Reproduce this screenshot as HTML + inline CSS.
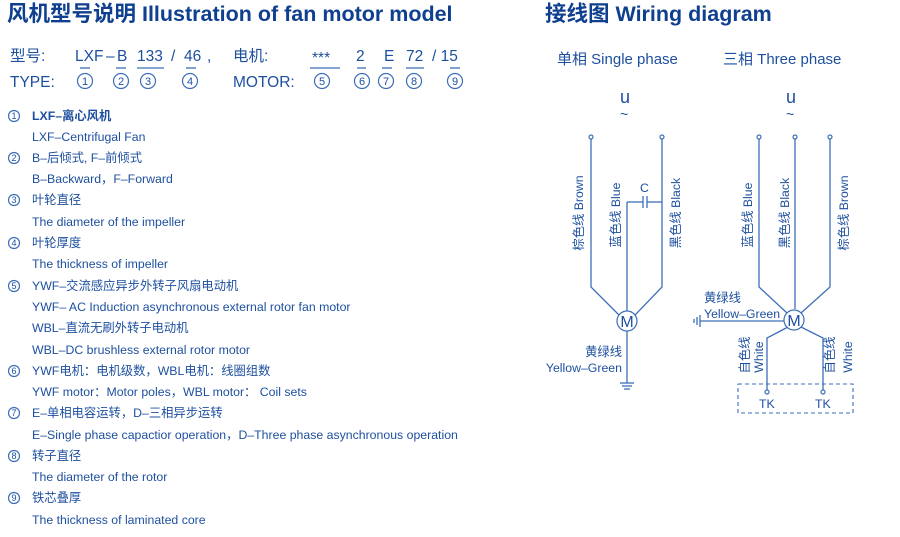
<!DOCTYPE html>
<html><head><meta charset="utf-8"><style>
html,body{margin:0;padding:0;background:#fff;}
svg text{font-family:"Liberation Sans","Noto Sans CJK SC",sans-serif;fill:#1d4f9f;}
.t{font-size:12.3px;}
.h{font-size:21.5px;font-weight:bold;fill:#0f3f8f;}
.m{font-size:15.5px;fill:#1d4f9f;}
.cn{font-size:11px;text-anchor:middle;}
.cs{font-size:9px;text-anchor:middle;}
line,polyline,path{stroke:#3c6fb8;stroke-width:1.3;fill:none;}
circle{stroke:#3c6fb8;stroke-width:1.2;fill:#fff;}
</style></head><body>
<svg width="900" height="532" xmlns="http://www.w3.org/2000/svg">
<text class="h" x="7" y="21">风机型号说明 Illustration of fan motor model</text>
<text class="h" x="545" y="21">接线图 Wiring diagram</text>

<text class="m" x="10" y="61">型号:</text>
<text class="m" x="75" y="61">LXF</text>
<text class="m" x="106" y="61">–</text>
<text class="m" x="117" y="61">B</text>
<text class="m" x="137" y="61">133</text>
<text class="m" x="171" y="61">/</text>
<text class="m" x="184" y="61">46</text>
<text class="m" x="207" y="61">,</text>
<text class="m" x="233" y="61">电机:</text>
<text class="m" x="312" y="63">***</text>
<text class="m" x="356" y="61">2</text>
<text class="m" x="384" y="61">E</text>
<text class="m" x="406" y="61">72</text>
<text class="m" x="432" y="61">/ 15</text>
<text class="m" x="10" y="87">TYPE:</text>
<text class="m" x="233" y="87">MOTOR:</text>
<g>
<circle cx="85" cy="81" r="7.5"/><text class="cn" x="85" y="85">1</text>
<circle cx="121" cy="81" r="7.5"/><text class="cn" x="121" y="85">2</text>
<circle cx="148" cy="81" r="7.5"/><text class="cn" x="148" y="85">3</text>
<circle cx="190" cy="81" r="7.5"/><text class="cn" x="190" y="85">4</text>
<circle cx="322" cy="81" r="7.5"/><text class="cn" x="322" y="85">5</text>
<circle cx="362" cy="81" r="7.5"/><text class="cn" x="362" y="85">6</text>
<circle cx="386" cy="81" r="7.5"/><text class="cn" x="386" y="85">7</text>
<circle cx="414" cy="81" r="7.5"/><text class="cn" x="414" y="85">8</text>
<circle cx="455" cy="81" r="7.5"/><text class="cn" x="455" y="85">9</text>
</g>
<g>
<line x1="80" y1="68" x2="90" y2="68"/><line x1="116" y1="68" x2="126" y2="68"/>
<line x1="137" y1="68" x2="164" y2="68"/><line x1="186" y1="68" x2="196" y2="68"/>
<line x1="310" y1="68" x2="340" y2="68"/><line x1="357" y1="68" x2="366" y2="68"/>
<line x1="382" y1="68" x2="392" y2="68"/><line x1="406" y1="68" x2="424" y2="68"/>
<line x1="450" y1="68" x2="460" y2="68"/>
</g>

<g>
<circle cx="14" cy="116" r="5.5"/><text class="cs" x="14" y="119">1</text>
<circle cx="14" cy="158" r="5.5"/><text class="cs" x="14" y="161">2</text>
<circle cx="14" cy="200" r="5.5"/><text class="cs" x="14" y="203">3</text>
<circle cx="14" cy="243" r="5.5"/><text class="cs" x="14" y="246">4</text>
<circle cx="14" cy="286" r="5.5"/><text class="cs" x="14" y="289">5</text>
<circle cx="14" cy="371" r="5.5"/><text class="cs" x="14" y="374">6</text>
<circle cx="14" cy="413" r="5.5"/><text class="cs" x="14" y="416">7</text>
<circle cx="14" cy="456" r="5.5"/><text class="cs" x="14" y="459">8</text>
<circle cx="14" cy="498" r="5.5"/><text class="cs" x="14" y="501">9</text>
</g>
<g>
<text class="t" x="32" y="120" font-weight="bold">LXF–离心风机</text>
<text class="t" x="32" y="141">LXF–Centrifugal Fan</text>
<text class="t" x="32" y="162">B–后倾式, F–前倾式</text>
<text class="t" x="32" y="183">B–Backward，F–Forward</text>
<text class="t" x="32" y="204">叶轮直径</text>
<text class="t" x="32" y="226">The diameter of the impeller</text>
<text class="t" x="32" y="247">叶轮厚度</text>
<text class="t" x="32" y="268">The thickness of impeller</text>
<text class="t" x="32" y="290">YWF–交流感应异步外转子风扇电动机</text>
<text class="t" x="32" y="311">YWF– AC Induction asynchronous external rotor fan motor</text>
<text class="t" x="32" y="332">WBL–直流无刷外转子电动机</text>
<text class="t" x="32" y="354">WBL–DC brushless external rotor motor</text>
<text class="t" x="32" y="375">YWF电机：电机级数，WBL电机：线圈组数</text>
<text class="t" x="32" y="396">YWF motor：Motor poles，WBL motor： Coil sets</text>
<text class="t" x="32" y="417">E–单相电容运转，D–三相异步运转</text>
<text class="t" x="32" y="439">E–Single phase capactior operation，D–Three phase asynchronous operation</text>
<text class="t" x="32" y="460">转子直径</text>
<text class="t" x="32" y="481">The diameter of the rotor</text>
<text class="t" x="32" y="502">铁芯叠厚</text>
<text class="t" x="32" y="524">The thickness of laminated core</text>
</g>

<text x="557" y="64" style="font-size:15px">单相 Single phase</text>
<text x="723" y="64" style="font-size:15px">三相 Three phase</text>

<!-- single phase -->
<text x="620" y="103" style="font-size:18px">u</text>
<text x="620" y="119" style="font-size:14px">~</text>
<polyline points="591,139 591,287 619,315"/>
<polyline points="662,139 662,287 635,315"/>
<line x1="627" y1="202" x2="627" y2="311"/>
<line x1="627" y1="202" x2="643" y2="202"/>
<line x1="647" y1="202" x2="662" y2="202"/>
<line x1="643" y1="196" x2="643" y2="208"/><line x1="647" y1="196" x2="647" y2="208"/>
<text x="640" y="192" class="t">C</text>
<circle cx="591" cy="137" r="2"/><circle cx="662" cy="137" r="2"/>
<line x1="627" y1="331" x2="627" y2="383"/>
<line x1="620" y1="383" x2="634" y2="383"/><line x1="622" y1="386" x2="632" y2="386"/><line x1="624" y1="389" x2="630" y2="389"/>
<circle cx="627" cy="321" r="10"/>
<text x="627" y="327" text-anchor="middle" style="font-size:16px">M</text>
<text x="622" y="356" text-anchor="end" class="t">黄绿线</text>
<text x="622" y="372" text-anchor="end" class="t">Yellow–Green</text>
<text class="t" transform="translate(583,213) rotate(-90)" text-anchor="middle">棕色线 Brown</text>
<text class="t" transform="translate(620,215) rotate(-90)" text-anchor="middle">蓝色线 Blue</text>
<text class="t" transform="translate(680,213) rotate(-90)" text-anchor="middle">黑色线 Black</text>

<!-- three phase -->
<text x="786" y="103" style="font-size:18px">u</text>
<text x="786" y="119" style="font-size:14px">~</text>
<polyline points="759,139 759,287 787,313"/>
<polyline points="830,139 830,287 801,313"/>
<line x1="795" y1="139" x2="795" y2="309"/>
<circle cx="759" cy="137" r="2"/><circle cx="795" cy="137" r="2"/><circle cx="830" cy="137" r="2"/>
<line x1="700" y1="321" x2="784" y2="321"/>
<line x1="700" y1="315" x2="700" y2="327"/><line x1="697" y1="317" x2="697" y2="325"/><line x1="694" y1="319" x2="694" y2="323"/>
<polyline points="788,327 767,338 767,390"/>
<polyline points="801,327 823,338 823,390"/>
<circle cx="767" cy="392" r="2"/><circle cx="823" cy="392" r="2"/>
<circle cx="794" cy="320" r="10"/>
<text x="794" y="326" text-anchor="middle" style="font-size:16px">M</text>
<text x="704" y="302" class="t">黄绿线</text>
<text x="704" y="318" class="t">Yellow–Green</text>
<rect x="738" y="384" width="115" height="29" fill="none" stroke="#3c6fb8" stroke-width="1.1" stroke-dasharray="4,3"/>
<text x="759" y="408" class="t">TK</text><text x="815" y="408" class="t">TK</text>
<text class="t" transform="translate(752,215) rotate(-90)" text-anchor="middle">蓝色线 Blue</text>
<text class="t" transform="translate(789,213) rotate(-90)" text-anchor="middle">黑色线 Black</text>
<text class="t" transform="translate(848,213) rotate(-90)" text-anchor="middle">棕色线 Brown</text>
<text class="t" transform="translate(749,355) rotate(-90)" text-anchor="middle">自色线</text>
<text class="t" transform="translate(763,357) rotate(-90)" text-anchor="middle">White</text>
<text class="t" transform="translate(834,355) rotate(-90)" text-anchor="middle">自色线</text>
<text class="t" transform="translate(852,357) rotate(-90)" text-anchor="middle">White</text>
</svg>
</body></html>
